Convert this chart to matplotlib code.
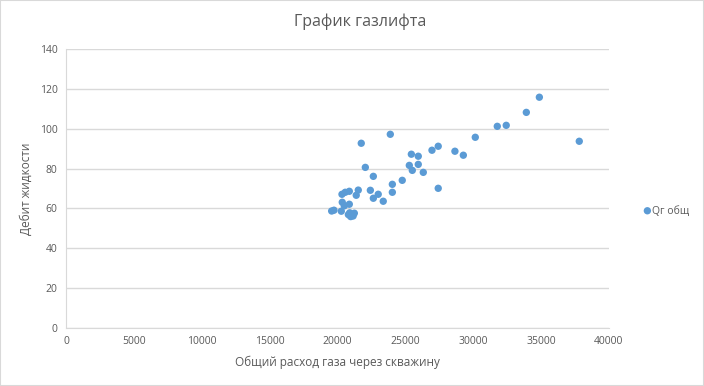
import matplotlib
matplotlib.use("Agg")
import matplotlib.pyplot as plt
from matplotlib.patches import Rectangle

plt.rcParams['font.family'] = ['Open Sans', 'DejaVu Sans']

gas_flow = [34870, 33910, 31770, 32430, 30150, 37810, 23890, 21750, 27420, 26960,
            28650, 29270, 25440, 25950, 25290, 25950, 25510, 26320, 22050, 22640,
            24770, 24040, 27420, 24040, 21530, 22420, 20870, 20570, 20330, 21380,
            23000, 22640, 23370, 20350, 20500, 20870, 19570, 19740, 20280, 20800,
            20970, 21240, 21070, 20900, 21150]
liquid_rate = [115.8, 108.2, 101.2, 101.7, 95.7, 93.7, 97.2, 92.7, 91.2, 89.2,
               88.7, 86.7, 87.2, 86.2, 81.6, 82.1, 79.1, 78.1, 80.6, 76.1,
               74.1, 72.1, 70.1, 68.1, 69.2, 69.1, 68.6, 68.1, 67.1, 66.6,
               67.1, 65.1, 63.6, 63.1, 61.3, 62.1, 58.7, 59.1, 58.6, 56.9,
               55.9, 57.6, 56.9, 57.8, 56.2]
x_ticks = [0, 5000, 10000, 15000, 20000, 25000, 30000, 35000, 40000]
y_ticks = [0, 20, 40, 60, 80, 100, 120, 140]
series_name = "Qг общ"
title = "График газлифта"
xlabel = "Общий расход газа через скважину"
ylabel = "Дебит жидкости"

W, H = 704, 386
fig = plt.figure(figsize=(W / 100, H / 100), dpi=100)
ax = fig.add_axes([66 / W, 1 - 328 / H, (609 - 66) / W, (328 - 49) / H])

sc = ax.scatter(gas_flow, liquid_rate, s=28, color='#5B9BD5', edgecolors='none', zorder=3)

ax.set_xlim(0, 40000)
ax.set_ylim(0, 140)
ax.set_xticks(x_ticks)
ax.set_yticks(y_ticks)
ax.grid(axis='y', color='#D9D9D9', linewidth=1)
ax.set_axisbelow(True)
for s in ['top', 'right']:
    ax.spines[s].set_visible(False)
ax.spines['left'].set_color('#D9D9D9')
ax.spines['bottom'].set_color('#D9D9D9')
ax.tick_params(length=0, labelsize=7.5, colors='#595959', pad=6)

ax.set_xlabel(xlabel, fontsize=8.5, color='#595959', labelpad=6)
ax.set_ylabel(ylabel, fontsize=8.5, color='#595959', labelpad=5)

fig.text(360 / W, 1 - 22 / H, title, ha='center', va='center', fontsize=11.5, color='#595959')

# legend
fig.legend([sc], [series_name], loc='center left', bbox_to_anchor=(638 / W, 1 - 211 / H),
           frameon=False, fontsize=7.5, handletextpad=0.05, markerscale=1.0,
           labelcolor='#595959', borderpad=0, handlelength=0.8)

fig.patches.append(Rectangle((0, 0), 1, 1, transform=fig.transFigure, fill=False,
                             edgecolor='#D9D9D9', linewidth=1.5))

fig.savefig("out.png", dpi=100)
